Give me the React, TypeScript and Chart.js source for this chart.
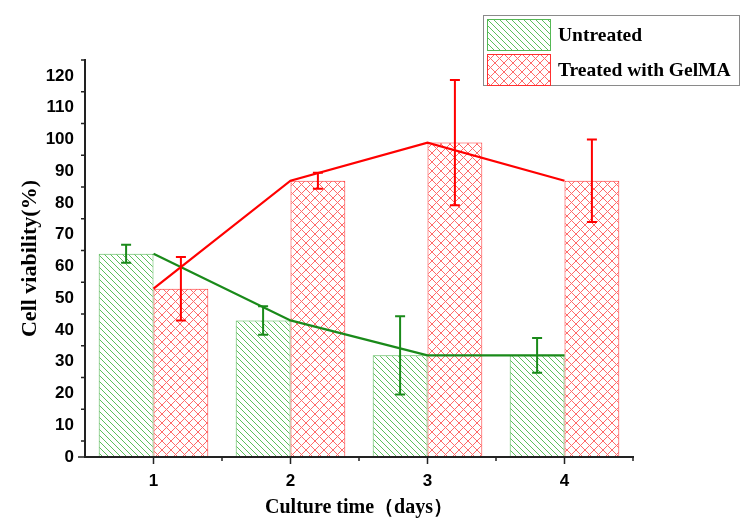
import React, { useEffect, useRef } from 'react';
import { Chart, registerables } from 'chart.js';

Chart.register(...registerables);

const days = ['1', '2', '3', '4'];
const untreated = [64, 43, 32, 32];
const untreatedErr = [2.8, 4.5, 12.3, 5.5];
const treated = [53, 87, 99, 87];
const treatedErr = [10, 2.5, 19.7, 13];
const yTickValues = [0, 10, 20, 30, 40, 50, 60, 70, 80, 90, 100, 110, 120];
const yMinorValues = [5, 15, 25, 35, 45, 55, 65, 75, 85, 95, 105, 115, 125];
const seriesLabels = ['Untreated', 'Treated with GelMA'];

const GREEN_HATCH = '#5cbf5c';
const GREEN_BORDER = '#55b855';
const GREEN_LINE = '#1a8a1a';
const RED_HATCH = '#ff6a6a';
const RED_BORDER = '#ff3030';
const RED_LINE = '#ff0000';
const AXIS = '#222222';

function makeHatch(color: string, size: number, cross: boolean): CanvasPattern | string {
  const c = document.createElement('canvas');
  c.width = size;
  c.height = size;
  const g = c.getContext('2d');
  if (!g) return color;
  g.fillStyle = '#ffffff';
  g.fillRect(0, 0, size, size);
  g.strokeStyle = color;
  g.lineWidth = 1;
  for (const k of [-size, 0, size]) {
    g.beginPath();
    g.moveTo(k, 0);
    g.lineTo(k + size, size);
    g.stroke();
    if (cross) {
      g.beginPath();
      g.moveTo(k + size, 0);
      g.lineTo(k, size);
      g.stroke();
    }
  }
  const p = g.createPattern(c, 'repeat');
  return p || color;
}

export default function App() {
  const ref = useRef<HTMLCanvasElement | null>(null);

  useEffect(() => {
    if (!ref.current) return;
    const greenPat = makeHatch(GREEN_HATCH, 6, false);
    const redPat = makeHatch(RED_HATCH, 9, true);

    const overlay = {
      id: 'overlay',
      afterDatasetsDraw(chart: any) {
        const ctx = chart.ctx;
        const ys = chart.scales.y;
        const errs = [untreatedErr, treatedErr];
        const cols = [GREEN_LINE, RED_LINE];
        [0, 1].forEach((di) => {
          const meta = chart.getDatasetMeta(di);
          const vals = chart.data.datasets[di].data as number[];
          meta.data.forEach((el: any, i: number) => {
            const x = el.x;
            const top = ys.getPixelForValue(vals[i] + errs[di][i]);
            const bot = ys.getPixelForValue(vals[i] - errs[di][i]);
            ctx.save();
            ctx.strokeStyle = cols[di];
            ctx.lineWidth = 2;
            ctx.beginPath();
            ctx.moveTo(x, top);
            ctx.lineTo(x, bot);
            ctx.moveTo(x - 5, top);
            ctx.lineTo(x + 5, top);
            ctx.moveTo(x - 5, bot);
            ctx.lineTo(x + 5, bot);
            ctx.stroke();
            ctx.restore();
          });
        });
      },
      afterDraw(chart: any) {
        const ctx = chart.ctx;
        const xs = chart.scales.x;
        const ys = chart.scales.y;
        const area = chart.chartArea;
        ctx.save();
        ctx.strokeStyle = AXIS;
        // axis lines redrawn on top of bars
        ctx.lineWidth = 2;
        ctx.beginPath();
        ctx.moveTo(area.left, area.top);
        ctx.lineTo(area.left, area.bottom);
        ctx.lineTo(area.right, area.bottom);
        ctx.stroke();
        ctx.lineWidth = 1.5;
        ctx.beginPath();
        days.forEach((_, i) => {
          const px = xs.getPixelForValue(i);
          ctx.moveTo(px, area.bottom);
          ctx.lineTo(px, area.bottom + 7);
          const nx = i < days.length - 1 ? (px + xs.getPixelForValue(i + 1)) / 2 : area.right;
          ctx.moveTo(nx, area.bottom);
          ctx.lineTo(nx, area.bottom + 4);
        });
        yMinorValues.forEach((v) => {
          const py = ys.getPixelForValue(v);
          ctx.moveTo(area.left, py);
          ctx.lineTo(area.left - 4, py);
        });
        const y0 = ys.getPixelForValue(0);
        ctx.moveTo(area.left, y0);
        ctx.lineTo(area.left - 7, y0);
        ctx.stroke();

        // legend
        const bx = 483, by = 15, bw = 256, bh = 70;
        ctx.strokeStyle = '#8a8a8a';
        ctx.lineWidth = 1;
        ctx.strokeRect(bx + 0.5, by + 0.5, bw, bh);
        const pats = [greenPat, redPat];
        const borders = [GREEN_BORDER, RED_BORDER];
        ctx.font = 'bold 19.5px "Liberation Serif", "Times New Roman", serif';
        ctx.textBaseline = 'middle';
        ctx.textAlign = 'left';
        seriesLabels.forEach((lab, i) => {
          const sy = by + 4 + i * 35;
          ctx.fillStyle = pats[i] as any;
          ctx.fillRect(487, sy, 63, 31);
          ctx.strokeStyle = borders[i];
          ctx.strokeRect(487.5, sy + 0.5, 63, 31);
          ctx.fillStyle = '#000';
          ctx.fillText(lab, 558, sy + 17);
        });
        ctx.restore();
      },
    };

    const chart = new Chart(ref.current, {
      type: 'bar',
      data: {
        labels: days,
        datasets: [
          {
            type: 'bar',
            label: seriesLabels[0],
            data: untreated,
            backgroundColor: greenPat as any,
            borderColor: GREEN_BORDER,
            borderWidth: 1,
            order: 2,
            categoryPercentage: 0.8,
            barPercentage: 1.0,
          },
          {
            type: 'bar',
            label: seriesLabels[1],
            data: treated,
            backgroundColor: redPat as any,
            borderColor: RED_BORDER,
            borderWidth: 1,
            order: 3,
            categoryPercentage: 0.8,
            barPercentage: 1.0,
          },
          {
            type: 'line',
            label: 'Untreated line',
            data: untreated,
            borderColor: GREEN_LINE,
            borderWidth: 2.2,
            pointRadius: 0,
            fill: false,
            tension: 0,
            order: 1,
          },
          {
            type: 'line',
            label: 'Treated line',
            data: treated,
            borderColor: RED_LINE,
            borderWidth: 2.2,
            pointRadius: 0,
            fill: false,
            tension: 0,
            order: 0,
          },
        ] as any,
      },
      options: {
        animation: false,
        responsive: false,
        maintainAspectRatio: false,
        layout: { padding: { left: 0, top: 60, right: 115, bottom: 0 } },
        plugins: { legend: { display: false }, tooltip: { enabled: false } },
        scales: {
          x: {
            type: 'category',
            offset: true,
            grid: { display: false, drawTicks: false },
            border: { display: true, color: AXIS, width: 2 },
            ticks: {
              color: '#000',
              padding: 14,
              font: { family: '"Liberation Sans", Arial, sans-serif', size: 17, weight: 'bold' },
            },
            title: {
              display: true,
              text: 'Culture time（days）',
              color: '#000',
              font: { family: '"Liberation Serif", "Times New Roman", serif', size: 20, weight: 'bold' },
              padding: { top: 0, bottom: 7 },
            },
            afterFit: (s: any) => {
              s.height = 70;
            },
          },
          y: {
            type: 'linear',
            min: 0,
            max: 125,
            grid: { display: false, drawTicks: false },
            border: { display: true, color: AXIS, width: 2 },
            afterBuildTicks: (s: any) => {
              s.ticks = yTickValues.map((v) => ({ value: v }));
            },
            ticks: {
              color: '#000',
              padding: 11,
              font: { family: '"Liberation Sans", Arial, sans-serif', size: 17, weight: 'bold' },
            },
            title: {
              display: true,
              text: 'Cell viability(%)',
              color: '#000',
              font: { family: '"Liberation Serif", "Times New Roman", serif', size: 22, weight: 'bold' },
              padding: { top: 17, bottom: 0 },
            },
            afterFit: (s: any) => {
              s.width = 85;
            },
          },
        },
      },
      plugins: [overlay],
    });
    return () => chart.destroy();
  }, []);

  return (
    <div style={{ position: 'fixed', left: 0, top: 0, width: 748, height: 527, background: '#fff' }}>
      <canvas ref={ref} width={748} height={527} style={{ display: 'block' }} />
    </div>
  );
}
